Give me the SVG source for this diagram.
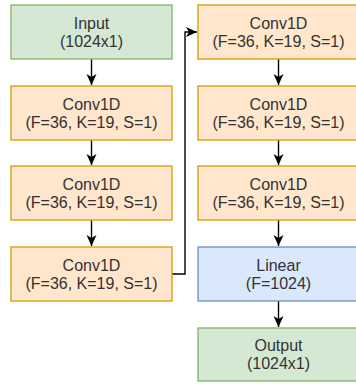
<svg xmlns="http://www.w3.org/2000/svg" width="356" height="385" viewBox="0 0 356 385">
  <style>
    .conv { fill: #ffe6cc; stroke: #d79b00; stroke-width: 1.3; }
    .io { fill: #d5e8d4; stroke: #82b366; stroke-width: 1.3; }
    .lin { fill: #dae8fc; stroke: #6c8ebf; stroke-width: 1.3; }
    text { font-family: "Liberation Sans", Arial, sans-serif; font-size: 16px; fill: #333333; text-anchor: middle; }
    .edge { fill: none; stroke: #000000; stroke-width: 1.4; }
  </style>
  <defs>
    <marker id="arr" markerUnits="userSpaceOnUse" markerWidth="12" markerHeight="12" viewBox="0 0 12 12" refX="11" refY="6" orient="auto">
      <path d="M0,1 L11,6 L0,11 L3,6 z" fill="#000000"/>
    </marker>
  </defs>
  <g id="connectors">
    <path class="edge" d="M91.5,59 V85" marker-end="url(#arr)"/>
    <path class="edge" d="M91.5,140 V165" marker-end="url(#arr)"/>
    <path class="edge" d="M91.5,220 V246" marker-end="url(#arr)"/>
    <path class="edge" d="M172,274 H185 V32 H197" marker-end="url(#arr)"/>
    <path class="edge" d="M278.5,59 V85" marker-end="url(#arr)"/>
    <path class="edge" d="M278.5,140 V165" marker-end="url(#arr)"/>
    <path class="edge" d="M278.5,220 V246" marker-end="url(#arr)"/>
    <path class="edge" d="M278.5,301 V327" marker-end="url(#arr)"/>
  </g>
  <g id="input">
    <rect class="io" x="11" y="5" width="161" height="54"/>
    <text x="91.5" y="28.5">Input</text>
    <text x="91.5" y="46.5">(1024x1)</text>
  </g>
  <g id="conv1">
    <rect class="conv" x="11" y="86" width="161" height="54"/>
    <text x="91.5" y="109.5">Conv1D</text>
    <text x="91.5" y="127.5">(F=36, K=19, S=1)</text>
  </g>
  <g id="conv2">
    <rect class="conv" x="11" y="166" width="161" height="54"/>
    <text x="91.5" y="189.5">Conv1D</text>
    <text x="91.5" y="207.5">(F=36, K=19, S=1)</text>
  </g>
  <g id="conv3">
    <rect class="conv" x="11" y="247" width="161" height="54"/>
    <text x="91.5" y="270.5">Conv1D</text>
    <text x="91.5" y="288.5">(F=36, K=19, S=1)</text>
  </g>
  <g id="conv4">
    <rect class="conv" x="198" y="5" width="161" height="54"/>
    <text x="278.5" y="28.5">Conv1D</text>
    <text x="278.5" y="46.5">(F=36, K=19, S=1)</text>
  </g>
  <g id="conv5">
    <rect class="conv" x="198" y="86" width="161" height="54"/>
    <text x="278.5" y="109.5">Conv1D</text>
    <text x="278.5" y="127.5">(F=36, K=19, S=1)</text>
  </g>
  <g id="conv6">
    <rect class="conv" x="198" y="166" width="161" height="54"/>
    <text x="278.5" y="189.5">Conv1D</text>
    <text x="278.5" y="207.5">(F=36, K=19, S=1)</text>
  </g>
  <g id="linear">
    <rect class="lin" x="198" y="247" width="161" height="54"/>
    <text x="278.5" y="270.5">Linear</text>
    <text x="278.5" y="288.5">(F=1024)</text>
  </g>
  <g id="output">
    <rect class="io" x="198" y="328" width="161" height="53"/>
    <text x="278.5" y="351">Output</text>
    <text x="278.5" y="369">(1024x1)</text>
  </g>
</svg>
